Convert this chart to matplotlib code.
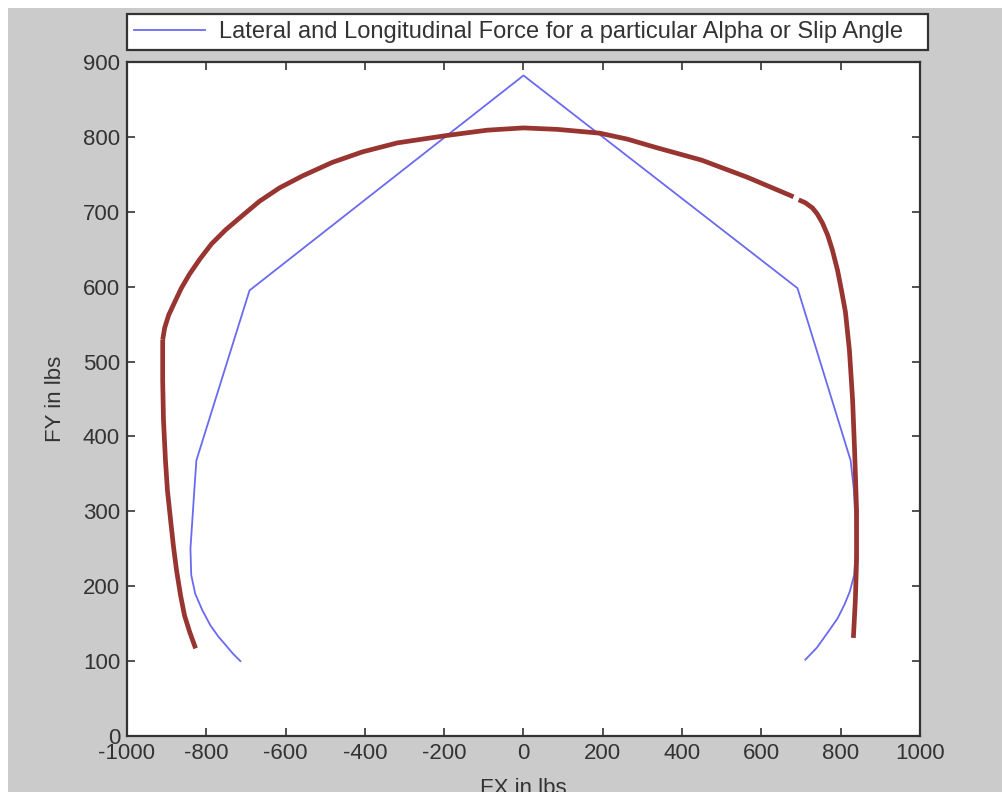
import matplotlib
matplotlib.use("Agg")
import matplotlib.pyplot as plt
from matplotlib.patches import Rectangle

# Blue curve: lateral/longitudinal force (FX, FY) in lbs
blue_fx = [-714, -733, -752, -770, -790, -810, -828, -838, -840, -835, -830, -825,
           -691, 0, 691,
           825, 833, 837, 838, 834, 823, 810, 792, 767, 740, 711]
blue_fy = [100, 110, 122, 133, 148, 168, 190, 215, 250, 290, 330, 368,
           595, 882, 598,
           368, 330, 290, 250, 215, 193, 176, 157, 138, 118, 102]

# Hand-drawn brown overlay, three strokes
brown_left_fx = [-910, -910, -908, -903, -898, -890, -883, -875, -865, -855, -842, -827]
brown_left_fy = [529, 475, 422, 368, 328, 288, 254, 221, 188, 161, 139, 117]
brown_arc_fx = [-910, -905, -895, -880, -863, -842, -816, -787, -751, -711, -666, -615,
                -557, -482, -406, -318, -192, -91, 0, 86, 192, 262, 333, 449, 565, 681]
brown_arc_fy = [529, 545, 562, 579, 598, 617, 637, 657, 676, 694, 714, 732,
                748, 766, 780, 792, 802, 809, 812, 810, 805, 797, 786, 769, 746, 720]
brown_right_fx = [694, 711, 729, 741, 754, 767, 779, 792, 802, 812, 822, 830, 835,
                  840, 840, 837, 832]
brown_right_fy = [716, 712, 705, 697, 685, 669, 649, 622, 595, 566, 515, 449, 382,
                  302, 235, 182, 131]

x_ticks = [-1000, -800, -600, -400, -200, 0, 200, 400, 600, 800, 1000]
y_ticks = [0, 100, 200, 300, 400, 500, 600, 700, 800, 900]

legend_label = "Lateral and Longitudinal Force for a particular Alpha or Slip Angle"
x_label = "FX in lbs"
y_label = "FY in lbs"

plt.rcParams['font.family'] = ["Liberation Sans", "DejaVu Sans"]
plt.rcParams['axes.unicode_minus'] = False
TXT = "#333333"

W, H = 1003, 792
fig = plt.figure(figsize=(W / 100, H / 100), dpi=100, facecolor="white")
fig.patches.append(Rectangle((8 / W, 0), 1, 1 - 8 / H, transform=fig.transFigure,
                             facecolor="#cbcbcb", edgecolor="none", zorder=-10))

ax = fig.add_axes([127 / W, 1 - 736 / H, (920 - 127) / W, (736 - 62) / H])
ax.set_facecolor("white")

ax.plot(blue_fx, blue_fy, color="#6a6af0", lw=1.3, label=legend_label, zorder=3)
for fx, fy in [(brown_left_fx, brown_left_fy), (brown_arc_fx, brown_arc_fy),
               (brown_right_fx, brown_right_fy)]:
    ax.plot(fx, fy, color="#983530", lw=3.4, solid_capstyle="butt",
            solid_joinstyle="round", zorder=4)

ax.set_xlim(-1000, 1000)
ax.set_ylim(0, 900)
ax.set_xticks(x_ticks)
ax.set_yticks(y_ticks)
ax.tick_params(direction="in", length=6, width=1.2, color="#333333", top=True, right=True,
               labelsize=16, labelcolor=TXT, pad=5)
for s in ax.spines.values():
    s.set_color("#333333")
    s.set_linewidth(1.6)

ax.set_xlabel(x_label, fontsize=16, color=TXT, labelpad=10)
ax.set_ylabel(y_label, fontsize=16, color=TXT, labelpad=12)

leg = ax.legend(loc="lower left", mode="expand",
                bbox_to_anchor=(127 / W, 1 - 50 / H, (928 - 127) / W, 40 / H),
                bbox_transform=fig.transFigure, borderaxespad=0, fontsize=17,
                handlelength=3.0, handletextpad=0.6, borderpad=0.3,
                frameon=True, fancybox=False, framealpha=1, facecolor="white",
                labelcolor=TXT)
leg.get_frame().set_edgecolor("#333333")
leg.get_frame().set_linewidth(1.6)

fig.savefig("out.png", dpi=100, facecolor=fig.get_facecolor())
